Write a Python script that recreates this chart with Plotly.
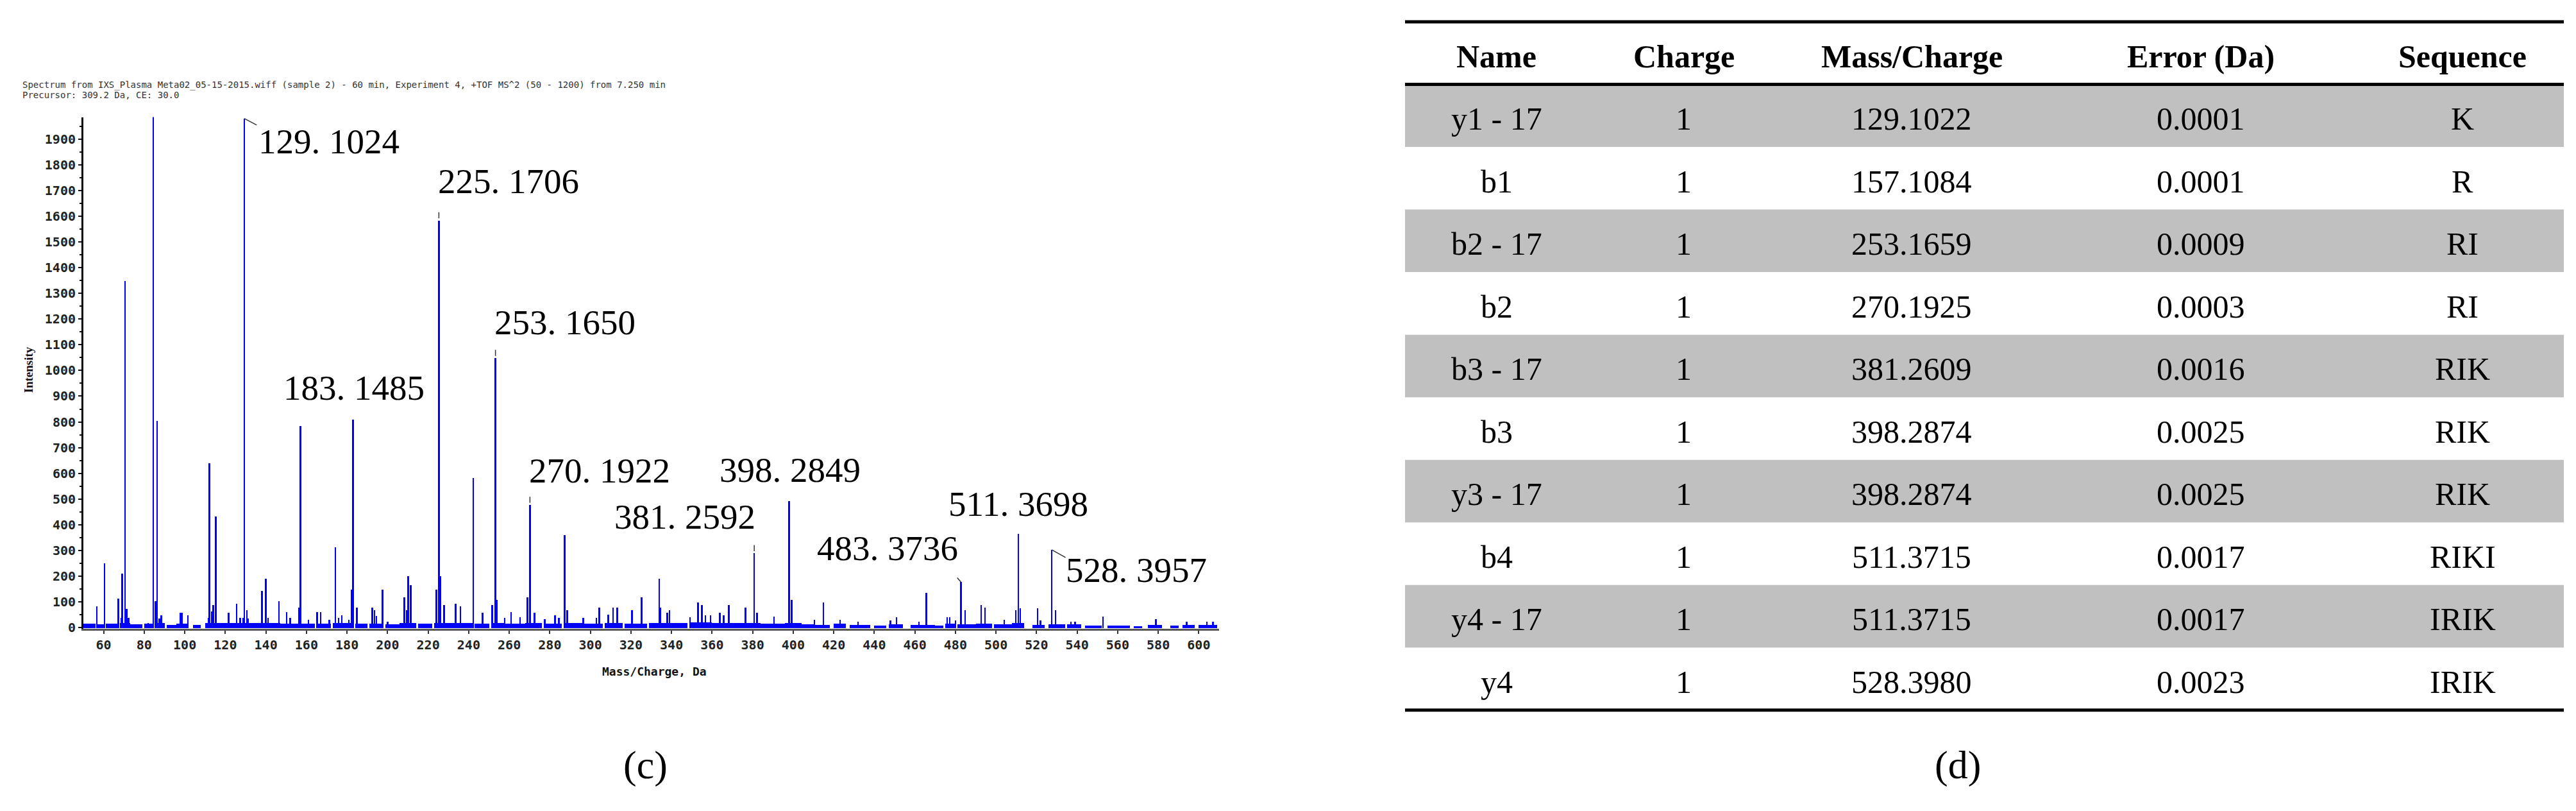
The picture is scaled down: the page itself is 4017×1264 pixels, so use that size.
"""MS/MS spectrum (c) with fragment-ion table (d)."""

import plotly.graph_objects as go

# ---- spectrum data ----
peak_mz = [
    56.6, 60.4, 67.3, 68.6, 69.2, 70.5, 71.3, 72.3, 82.0, 84.4, 85.6, 86.3,
    87.5, 88.4, 97.8, 98.6, 101.5, 111.7, 112.2, 113.3, 114.0, 115.3, 121.6,
    125.5, 127.3, 128.7, 129.3, 130.6, 131.3, 138.0, 140.0, 141.0, 146.5,
    150.3, 152.0, 156.4, 157.1, 161.0, 165.3, 167.0, 171.3, 174.2, 175.8,
    177.5, 180.9, 182.2, 183.0, 184.8, 192.5, 193.5, 194.5, 197.5, 200.0,
    208.2, 209.5, 210.2, 211.5, 224.0, 225.3, 226.0, 227.8, 233.5, 236.0,
    242.3, 246.9, 251.6, 253.2, 253.8, 257.8, 260.9, 265.4, 269.0, 270.2,
    272.5, 277.5, 282.5, 284.5, 287.3, 288.5, 296.4, 303.0, 304.4, 308.8,
    311.2, 313.2, 320.5, 325.3, 334.0, 334.6, 337.9, 339.0, 349.2, 353.0,
    355.0, 356.7, 359.3, 363.8, 365.8, 368.3, 376.4, 380.8, 382.2, 390.6,
    397.9, 399.2, 410.4, 414.9, 423.1, 432.0, 448.0, 451.0, 462.0, 465.6,
    476.0, 477.2, 480.0, 482.7, 484.8, 492.7, 494.6, 504.0, 509.8, 511.0,
    512.0, 520.5, 522.0, 527.5, 529.4, 537.0, 539.0, 552.7, 578.8, 594.0,
    604.0, 607.0,
]
peak_int = [
    85, 250, 115, 40, 210, 1350, 75, 38, 18, 1990, 105, 805,
    36, 48, 60, 60, 48, 38, 640, 65, 88, 432, 58,
    95, 38, 38, 1980, 68, 36, 145, 190, 40, 105,
    62, 40, 78, 785, 32, 62, 62, 32, 313, 40,
    50, 32, 150, 811, 78, 78, 68, 47, 148, 24,
    120, 70, 201, 166, 148, 1584, 201, 90, 95, 85,
    582, 58, 90, 1049, 110, 40, 62, 42, 120, 478,
    58, 33, 50, 40, 361, 70, 40, 40, 78, 52,
    78, 78, 70, 120, 192, 78, 60, 70, 42, 98,
    88, 50, 50, 60, 50, 90, 78, 290, 58, 44,
    493, 108, 32, 98, 32, 24, 30, 42, 24, 136,
    42, 42, 30, 178, 68, 88, 78, 32, 68, 367,
    76, 76, 30, 303, 68, 24, 24, 43, 33, 24,
    24, 24,
]

# low-level noise floor: (start m/z, end m/z, height)
noise_start = [50, 57, 61, 68, 73, 80, 85, 91, 96, 104, 110, 122, 130, 136,
               147, 157, 165, 173, 184, 191, 199, 206, 215, 223, 232, 243,
               251, 258, 268, 277, 287, 297, 307, 317, 329, 338, 349, 360,
               372, 384, 396, 404, 410, 420, 428, 440, 447, 458, 470, 475,
               481, 490, 499, 508, 518, 526, 535, 544, 555, 568, 575, 586,
               592, 600]
noise_end = [56, 60, 67, 73, 79, 84, 90, 96, 102, 108, 122, 130, 136, 147,
             156, 164, 172, 183, 190, 198, 206, 214, 222, 232, 242, 250,
             258, 268, 276, 286, 296, 306, 316, 328, 338, 348, 360, 372,
             384, 396, 404, 410, 418, 426, 438, 446, 454, 470, 474, 480,
             490, 498, 508, 514, 524, 534, 542, 552, 566, 572, 582, 590,
             598, 609]
noise_level = [16, 14, 16, 20, 14, 16, 18, 12, 16, 12, 18, 20, 18, 18,
               16, 16, 16, 20, 16, 16, 14, 20, 16, 20, 18, 16,
               20, 16, 18, 16, 18, 16, 18, 16, 18, 18, 22, 18,
               18, 16, 18, 14, 12, 16, 12, 9, 14, 12, 9, 16,
               14, 16, 14, 18, 12, 14, 14, 9, 9, 6, 12, 9,
               12, 12]

# labelled peaks: text, label centre (m/z, intensity)
label_text = ["129. 1024", "225. 1706", "183. 1485", "253. 1650", "270. 1922",
              "381. 2592", "398. 2849", "483. 3736", "511. 3698", "528. 3957"]
label_mz = [171.1, 259.6, 183.4, 287.5, 304.5, 346.6, 398.5, 446.5, 511.0, 569.2]
label_int = [1890, 1735, 933, 1186, 610, 431, 614, 308, 480, 223]

# leader marks: peak (m/z, intensity), pixel offset of the other end
leader_mz = [129.3, 527.5, 482.7, 225.3, 253.2, 270.2, 380.8]
leader_int = [1980, 303, 178, 1584, 1049, 478, 290]
leader_dx = [21, 23, -7, 0, 0, 0, 0]
leader_dy = [11, 13, -8, -14, -14, -14, -14]

header_lines = [
    "Spectrum from IXS_Plasma Meta02_05-15-2015.wiff (sample 2) - 60 min, "
    "Experiment 4, +TOF MS^2 (50 - 1200) from 7.250 min",
    "Precursor: 309.2 Da, CE: 30.0",
]

# ---- table data ----
tbl_cols = ["Name", "Charge", "Mass/Charge", "Error (Da)", "Sequence"]
ion_name = ["y1 - 17", "b1", "b2 - 17", "b2", "b3 - 17", "b3", "y3 - 17",
            "b4", "y4 - 17", "y4"]
ion_charge = ["1"] * 10
ion_mz = ["129.1022", "157.1084", "253.1659", "270.1925", "381.2609",
          "398.2874", "398.2874", "511.3715", "511.3715", "528.3980"]
ion_err = ["0.0001", "0.0001", "0.0009", "0.0003", "0.0016", "0.0025",
           "0.0025", "0.0017", "0.0017", "0.0023"]
ion_seq = ["K", "R", "RI", "RI", "RIK", "RIK", "RIK", "RIKI", "IRIK", "IRIK"]
col_pos = [0.0791, 0.2407, 0.4372, 0.6868, 0.9126]

W, H = 4017, 1264
BLUE = "#0000FF"
GRAY = "#C0C0C0"

fig = go.Figure()

fig.add_trace(go.Bar(
    x=[(s + e) / 2 for s, e in zip(noise_start, noise_end)],
    y=noise_level,
    width=[e - s for s, e in zip(noise_start, noise_end)],
    marker=dict(color=BLUE, line_width=0),
    hoverinfo="skip", showlegend=False,
))
fig.add_trace(go.Bar(
    x=peak_mz, y=peak_int, width=0.8,
    marker=dict(color=BLUE, line_width=0),
    showlegend=False,
))
# precursor marker on the intensity axis
fig.add_trace(go.Scatter(
    x=[47.6], y=[60], mode="markers", cliponaxis=False,
    marker=dict(symbol="triangle-right", size=11, color=BLUE),
    showlegend=False, hoverinfo="skip",
))

tick_font = dict(family="DejaVu Sans Mono", size=20, color="#222", weight="bold")
fig.update_layout(
    width=W, height=H,
    margin=dict(l=0, r=0, t=0, b=0),
    paper_bgcolor="white", plot_bgcolor="white",
    barmode="overlay", bargap=0,
    xaxis=dict(
        domain=[122 / W, 1893 / W], range=[50, 610],
        tick0=0, dtick=20, ticks="outside", ticklen=5, tickwidth=2,
        tickcolor="#333", tickfont=tick_font,
        showline=True, linecolor="#555", linewidth=3,
        showgrid=False, zeroline=False,
    ),
    yaxis=dict(
        domain=[(H - 980) / H, (H - 176) / H], range=[-5, 1985],
        tick0=0, dtick=100, ticks="outside", ticklen=5, tickwidth=2,
        tickcolor="#111", tickfont=tick_font,
        minor=dict(dtick=50, ticks="outside", ticklen=3, tickcolor="#111"),
        showline=True, linecolor="black", linewidth=3,
        showgrid=False, zeroline=False,
    ),
    xaxis2=dict(domain=[2183 / W, 3990 / W], range=[0, 1], visible=False,
                anchor="y2"),
    yaxis2=dict(domain=[(H - 1113.4) / H, (H - 23.3) / H], range=[10.06, -1.03],
                visible=False, anchor="x2"),
)

annotations = []
label_font = dict(family="Liberation Serif", size=55, color="black")
for t, x, y in zip(label_text, label_mz, label_int):
    annotations.append(dict(x=x, y=y, xref="x", yref="y", text=t,
                            showarrow=False, font=label_font,
                            xanchor="center", yanchor="middle"))
for x, y, dx, dy in zip(leader_mz, leader_int, leader_dx, leader_dy):
    annotations.append(dict(x=x, y=y, xref="x", yref="y", text="",
                            showarrow=True, arrowhead=0, arrowwidth=1.5,
                            arrowcolor="#333", ax=dx, ay=dy,
                            standoff=3 if dx == 0 else 0))

for i, line in enumerate(header_lines):
    annotations.append(dict(x=25 / W, y=1 - (125 + 16 * i) / H, xref="paper",
                            yref="paper", text=line, showarrow=False,
                            xanchor="left", yanchor="middle",
                            font=dict(family="DejaVu Sans Mono", size=14,
                                      color="#333")))

axis_font = dict(family="DejaVu Sans Mono", size=18, color="#111", weight="bold")
annotations.append(dict(x=36 / W, y=1 - 573 / H, xref="paper", yref="paper",
                        text="Intensity", textangle=-90, showarrow=False,
                        xanchor="center", yanchor="middle",
                        font=dict(family="Liberation Serif", size=19,
                                  color="#111", weight="bold")))
annotations.append(dict(x=1012 / W, y=1 - 1047 / H, xref="paper", yref="paper",
                        text="Mass/Charge, Da", showarrow=False,
                        xanchor="center", yanchor="middle", font=axis_font))

panel_font = dict(family="Liberation Serif", size=62, color="black")
for txt, px in (("(c)", 998), ("(d)", 3045)):
    annotations.append(dict(x=px / W, y=1 - 1194 / H, xref="paper",
                            yref="paper", text=txt, showarrow=False,
                            xanchor="center", yanchor="middle",
                            font=panel_font))

# ---- table (d) ----
shapes = []
for i in range(0, len(ion_name), 2):
    shapes.append(dict(type="rect", xref="x2", yref="y2", x0=0, x1=1,
                       y0=i, y1=i + 1, fillcolor=GRAY, line_width=0,
                       layer="below"))
for yv in (-1, 0, len(ion_name)):
    shapes.append(dict(type="line", xref="x2", yref="y2", x0=0, x1=1,
                       y0=yv, y1=yv, line=dict(color="black", width=5)))

head_font = dict(family="Liberation Serif", size=50, color="black",
                 weight="bold")
cell_font = dict(family="Liberation Serif", size=50, color="black")
for c, x in zip(tbl_cols, col_pos):
    annotations.append(dict(x=x, y=-0.45, xref="x2", yref="y2", text=c,
                            showarrow=False, font=head_font,
                            xanchor="center", yanchor="middle"))
columns = [ion_name, ion_charge, ion_mz, ion_err, ion_seq]
for col, x in zip(columns, col_pos):
    for r, val in enumerate(col):
        annotations.append(dict(x=x, y=r + 0.55, xref="x2", yref="y2",
                                text=val, showarrow=False, font=cell_font,
                                xanchor="center", yanchor="middle"))

fig.update_layout(annotations=annotations, shapes=shapes)
fig.write_html("out.html")
